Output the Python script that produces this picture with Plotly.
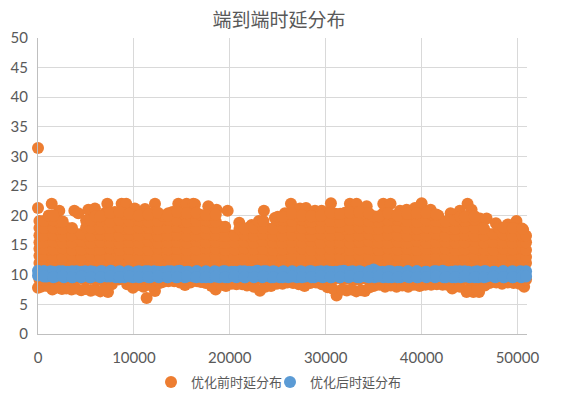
import plotly.graph_objects as go

title = "端到端时延分布"
before_name = "优化前时延分布"
after_name = "优化后时延分布"
x_ticks = [0, 10000, 20000, 30000, 40000, 50000]
y_ticks = [0, 5, 10, 15, 20, 25, 30, 35, 40, 45, 50]

outlier_x = [0]
outlier_y = [31.4]

top_x = [0,1430,2220,3790,4200,5250,5940,7230,8720,9200,10100,11160,12200,13590,14630,15500,16200,16370,17760,18630,19780,20990,22280,23560,24710,25750,26380,27320,27950,28890,29580,30550,32530,33230,34280,36010,36770,37750,38450,39310,40010,40950,41740,43030,44000,44800,45220,46090,46790,47760,49000,49900,50600]
top_y = [21.3,22.0,20.8,20.8,20.4,21.0,21.2,22.0,22.0,22.0,21.2,21.1,22.0,20.4,22.0,22.0,22.0,21.9,21.6,21.0,20.8,18.8,18.4,20.8,19.6,20.4,22.0,21.2,21.3,20.8,20.8,22.1,22.0,22.0,21.6,22.0,22.0,20.8,21.0,21.3,22.1,21.0,20.0,20.4,20.8,22.0,21.0,19.5,19.5,18.7,18.5,19.1,17.6]

bottom_x = [0,700,1500,2500,3500,4500,5500,6500,7300,8400,9900,10600,11330,12200,13000,14200,15330,16600,17500,18530,19600,20700,21800,23150,24300,25500,26600,27800,29000,30200,31140,32200,33200,34100,35000,36200,37400,38600,39800,41000,42200,43200,44700,45400,46000,47100,48400,49600,50700]
bottom_y = [7.8,8.2,7.5,7.6,7.5,7.4,7.3,7.2,7.1,9.2,7.8,8.3,6.1,7.25,8.8,8.9,8.26,8.9,8.6,7.5,8.1,8.4,8.2,7.3,8.1,8.5,8.6,8.1,8.7,7.9,6.5,7.35,7.2,7.25,8.1,8.0,8.0,8.0,8.1,8.3,8.3,7.7,7.1,7.1,7.1,8.6,8.5,8.6,8.0]

low_x = [300,1000,1900,2950,3950,4950,5950,6900,7700,9300,10200,11000,11800,12700,13600,14800,15900,17000,18100,19100,20200,21300,22500,23700,24900,26000,27200,28400,29600,30700,31700,32700,33700,34600,35600,36800,38000,39200,40400,41600,42700,44000,45000,45800,46600,47800,49000,50200]
low_y = [8.0,8.1,7.8,7.7,7.7,7.6,7.5,7.5,8.4,8.4,8.2,8.0,8.2,8.6,8.9,8.7,8.7,8.8,8.1,8.3,8.5,8.4,8.0,8.0,8.5,8.7,8.4,8.6,8.4,7.7,7.5,7.5,7.4,7.9,8.3,8.2,8.2,8.3,8.3,8.4,8.3,8.0,7.6,7.5,8.2,8.7,8.7,8.5]

col_a = [150,1120,2080,3070,4050,5020,6010,7040,8020,9010,10030,11010,12050,13030,14020,15010,16040,17020,18010,19050,20030,21020,22010,23040,24020,25010,26050,27030,28020,29010,30040,31020,32010,33050,34030,35020,36010,37040,38020,39010,40050,41030,42020,43010,44040,45020,46010,47050,48030,49020,50010,50800]
col_b = [620,1590,2580,3550,4540,5510,6530,7520,8510,9540,10520,11530,12510,13540,14510,15530,16520,17510,18540,19520,20510,21540,22520,23510,24530,25520,26510,27540,28520,29510,30530,31510,32540,33520,34510,35540,36520,37510,38530,39520,40510,41540,42520,43530,44510,45540,46520,47510,48540,49510,50500,50900]

band_1 = [12.0,11.9,12.1,11.8,12.0,12.1,11.9,12.0,11.8,12.1,12.0,11.9,12.1,12.0,11.8,12.0,12.1,11.9,12.0,12.1,11.8,12.0,11.9,12.1,12.0,11.8,12.1,12.0,11.9,12.0,12.1,11.8,12.0,11.9,12.1,12.0,11.9,12.0,12.1,11.8,12.0,12.1,11.9,12.0,11.8,12.1,12.0,11.9,12.1,12.0,11.8,12.0]
band_2 = [13.2,13.1,13.0,13.3,13.1,13.2,13.0,13.1,13.3,13.0,13.2,13.1,13.0,13.2,13.3,13.1,13.0,13.2,13.1,13.3,13.0,13.2,13.1,13.0,13.3,13.1,13.2,13.0,13.1,13.3,13.2,13.0,13.1,13.2,13.0,13.3,13.1,13.2,13.0,13.1,13.3,13.0,13.2,13.1,13.0,13.2,13.3,13.1,13.0,13.2,13.1,13.0]
band_3 = [14.4,14.3,14.5,14.2,14.3,14.4,14.3,14.5,14.2,14.4,14.3,14.2,14.5,14.3,14.4,14.2,14.3,14.5,14.4,14.2,14.3,14.5,14.3,14.4,14.2,14.3,14.5,14.4,14.2,14.3,14.4,14.5,14.2,14.3,14.4,14.2,14.5,14.3,14.4,14.2,14.3,14.5,14.4,14.2,14.3,14.5,14.3,14.2,14.4,14.3,14.5,14.2]
band_4 = [15.5,15.6,15.4,15.5,15.7,15.4,15.6,15.5,15.4,15.6,15.5,15.7,15.4,15.5,15.6,15.4,15.7,15.5,15.6,15.4,15.5,15.6,15.4,15.7,15.5,15.4,15.6,15.5,15.7,15.4,15.6,15.5,15.4,15.6,15.7,15.5,15.4,15.6,15.5,15.7,15.4,15.5,15.6,15.4,15.5,15.7,15.4,15.6,15.5,15.4,15.6,15.5]
band_5 = [16.7,16.8,16.6,16.7,16.9,16.6,16.8,16.7,16.6,16.8,16.7,16.9,16.6,16.7,16.8,16.6,16.7,16.9,16.8,16.6,16.7,16.8,16.6,16.9,16.7,16.6,16.8,16.7,16.6,16.9,16.7,16.8,16.6,16.7,16.9,16.6,16.8,16.7,16.6,16.8,16.7,16.9,16.6,16.7,16.8,16.6,16.7,16.9,16.8,16.6,16.7,16.6]
band_6 = [17.9,18.0,17.8,17.9,None,18.0,17.8,17.9,18.1,17.8,18.0,17.9,17.8,18.0,18.1,17.9,17.8,18.0,17.9,18.1,None,17.8,18.0,17.9,17.8,18.0,18.1,17.9,17.8,18.0,17.9,18.1,17.8,18.0,17.9,17.8,18.0,18.1,17.9,17.8,18.0,17.9,18.1,17.8,18.0,17.9,17.8,None,18.0,17.9,17.8,None]
band_7 = [19.1,19.2,19.0,None,None,19.2,19.1,19.0,19.3,19.1,19.2,19.0,19.1,19.3,19.2,19.0,19.1,19.2,19.0,None,None,None,None,19.1,None,19.2,19.1,19.3,19.0,19.2,19.1,19.0,19.3,19.2,19.1,19.0,19.2,19.3,19.1,19.0,19.2,19.1,19.0,19.2,19.1,19.3,None,None,None,None,None,None]
band_8 = [None,20.0,None,None,None,None,19.9,20.5,20.6,20.3,20.0,20.2,20.5,20.0,20.6,20.4,20.5,20.1,20.2,None,None,None,None,None,None,19.8,20.3,20.0,19.9,20.0,20.5,20.3,20.5,20.6,20.4,19.9,20.4,20.0,20.3,20.4,20.5,20.2,None,None,19.8,19.9,None,None,None,None,None,None]
edge_y = [9.2,9.4,9.3,9.2,9.4,9.3,9.2,9.4,9.3,9.2,9.4,9.3,9.2,9.4,9.3,9.2,9.4,9.3,9.2,9.4,9.3,9.2,9.4,9.3,9.2,9.4,9.3,9.2,9.4,9.3,9.2,9.4,9.3,9.2,9.4,9.3,9.2,9.4,9.3,9.2,9.4,9.3,9.2,9.4,9.3,9.2,9.4,9.3,9.2,9.4,9.3,9.2]

after_x_upper = [0,600,1300,2200,3100,4000,4900,5800,6700,7600,8500,9400,10300,11200,12100,13000,13900,14800,15700,16600,17500,18400,19300,20200,21100,22000,22900,23800,24700,25600,26500,27400,28300,29200,30100,31000,31900,32800,33700,34600,35000,35900,36800,37700,38600,39500,40400,41300,42200,43100,44000,44900,45800,46700,47600,48500,49400,50300,50850]
after_y_upper = [10.7,10.6,10.6,10.6,10.5,10.6,10.6,10.5,10.6,10.7,10.5,10.6,10.5,10.6,10.6,10.5,10.6,10.7,10.5,10.6,10.5,10.6,10.6,10.5,10.6,10.5,10.7,10.6,10.5,10.6,10.5,10.6,10.6,10.5,10.6,10.5,10.7,10.6,10.5,10.6,10.9,10.5,10.6,10.5,10.6,10.6,10.5,10.6,10.7,10.5,10.6,10.5,10.6,10.6,10.5,10.6,10.5,10.6,10.5]
after_x_lower = [0,900,1800,2700,3600,4500,5400,6300,7200,8100,9000,9900,10800,11700,12600,13500,14400,15300,16200,17100,18000,18900,19800,20700,21600,22500,23400,24300,25200,26100,27000,27900,28800,29700,30600,31500,32400,33300,34200,35100,36000,36900,37800,38700,39600,40500,41400,42300,43200,44100,45000,45900,46800,47700,48600,49500,50400,50850]
after_y_lower = [9.9,9.7,9.7,9.6,9.6,9.6,9.6,9.7,9.7,9.6,9.6,9.6,9.7,9.6,9.6,9.6,9.6,9.6,9.7,9.6,9.6,9.6,9.6,9.6,9.6,9.7,9.6,9.6,9.6,9.6,9.6,9.7,9.6,9.6,9.6,9.6,9.6,9.6,9.7,9.6,9.6,9.6,9.6,9.6,9.6,9.7,9.6,9.6,9.6,9.6,9.6,9.6,9.7,9.6,9.6,9.6,9.6,9.8]
after_y_mid = [10.1,10.2,10.1,10.0,10.2,10.1,10.0,10.1,10.2,10.0,10.1,10.2,10.1,10.0,10.2,10.1,10.0,10.1,10.2,10.0,10.1,10.2,10.1,10.0,10.2,10.1,10.0,10.1,10.2,10.0,10.1,10.2,10.1,10.0,10.2,10.1,10.0,10.1,10.2,10.0,10.1,10.2,10.1,10.0,10.2,10.1,10.0,10.1,10.2,10.0,10.1,10.2,10.1,10.0,10.2,10.1]
after_y_upper_b = [10.6,10.5,10.6,10.6,10.5,10.6,10.6,10.5,10.6,10.5,10.6,10.6,10.5,10.6,10.6,10.5,10.6,10.6,10.5,10.6,10.5,10.6,10.5,10.6,10.6,10.5,10.6,10.5,10.6,10.6,10.5,10.6,10.5,10.6,10.6,10.5,10.6,10.5,10.6,10.6,10.5,10.6,10.5,10.6,10.6,10.5,10.6,10.5,10.6,10.6,10.5,10.6]
after_y_lower_b = [9.7,9.6,9.7,9.6,9.7,9.6,9.6,9.7,9.6,9.7,9.6,9.6,9.7,9.6,9.6,9.7,9.6,9.6,9.7,9.6,9.7,9.6,9.6,9.7,9.6,9.6,9.7,9.6,9.6,9.7,9.6,9.6,9.7,9.6,9.6,9.7,9.6,9.6,9.7,9.6,9.6,9.7,9.6,9.6,9.7,9.6,9.6,9.7,9.6,9.6,9.7,9.7]

ORANGE = "#ED7D31"
BLUE = "#5B9BD5"
TEXT = "#595959"

before_x = list(outlier_x) + list(top_x) + list(bottom_x) + list(low_x)
before_y = list(outlier_y) + list(top_y) + list(bottom_y) + list(low_y)
for band in [edge_y, band_1, band_2, band_3, band_4, band_5, band_6, band_7, band_8]:
    before_x += col_a + col_b
    before_y += band + band

after_x = after_x_upper + after_x_lower + after_x_lower[1:-1] + col_b + col_b
after_y = after_y_upper + after_y_lower + after_y_mid + after_y_upper_b + after_y_lower_b

fig = go.Figure()
fig.add_trace(go.Scatter(x=before_x, y=before_y, mode="markers", name=before_name,
                         marker=dict(color=ORANGE, size=12), cliponaxis=False))
fig.add_trace(go.Scatter(x=after_x, y=after_y, mode="markers", name=after_name, legend="legend2",
                         marker=dict(color=BLUE, size=12), cliponaxis=False))

cjk = '"Noto Sans CJK SC", sans-serif'
W, H = 563, 395
legend_style = dict(orientation="h", xanchor="left", y=(334 - 382) / 296, yanchor="middle",
                    font=dict(family=cjk, size=13, color=TEXT), itemsizing="constant",
                    itemwidth=30, bgcolor="rgba(0,0,0,0)")
fig.update_layout(
    width=W, height=H, autosize=False,
    paper_bgcolor="white", plot_bgcolor="white",
    margin=dict(l=38, r=W - 527, t=38, b=H - 334, autoexpand=False),
    title=dict(text=title, x=279 / W, xanchor="center", y=1 - 20 / H, yanchor="middle",
               font=dict(family=cjk, size=19, color=TEXT)),
    font=dict(family="Lato, sans-serif", color=TEXT),
    legend=dict(x=(151 - 38) / 489, **legend_style),
    legend2=dict(x=(270 - 38) / 489, **legend_style),
    showlegend=True,
)
fig.update_xaxes(range=[0, 51000], tickmode="array", tickvals=x_ticks, ticktext=[str(v) for v in x_ticks],
                 showgrid=True, gridcolor="#D9D9D9", gridwidth=1, zeroline=False,
                 showline=True, linecolor="#BFBFBF", linewidth=1,
                 ticks="", tickfont=dict(size=15, color=TEXT), ticklabelstandoff=10)
fig.update_yaxes(range=[0, 50], tickmode="array", tickvals=y_ticks, ticktext=[str(v) for v in y_ticks],
                 showgrid=True, gridcolor="#D9D9D9", gridwidth=1, zeroline=False,
                 showline=True, linecolor="#BFBFBF", linewidth=1,
                 ticks="", tickfont=dict(size=15, color=TEXT), ticklabelstandoff=6)

fig.write_html("out.html", post_script="document.body.style.margin='0';",
               config=dict(displayModeBar=False))
